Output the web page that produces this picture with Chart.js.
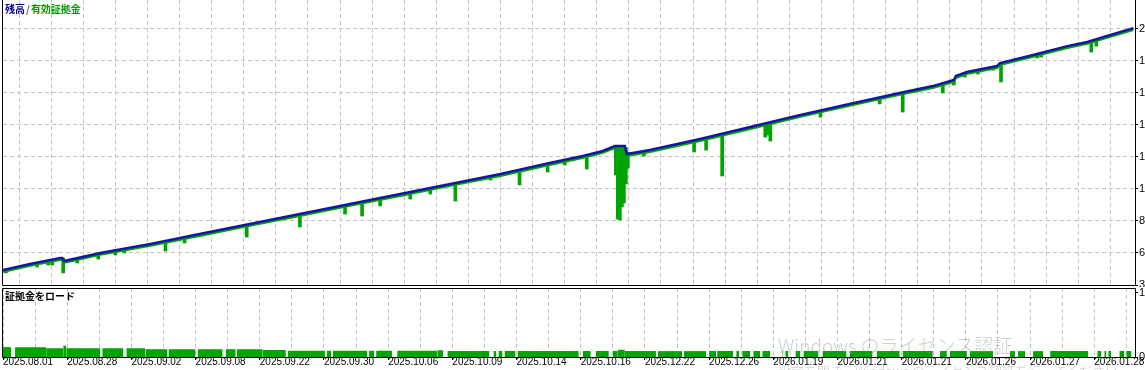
<!DOCTYPE html>
<html>
<head>
<meta charset="utf-8">
<script src="https://cdn.jsdelivr.net/npm/chart.js@4.4.0/dist/chart.umd.min.js"></script>
<style>
    body { margin: 0; width: 1145px; height: 370px; overflow: hidden; background: #fff; position: relative; font-family: "Noto Sans CJK JP", sans-serif; }
    #wrapTop { position: absolute; left: 0; top: 0; width: 1145px; height: 287px; }
    #wrapBottom { position: absolute; left: 0; top: 287px; width: 1145px; height: 83px; }
    .panel-title { position: absolute; left: 5px; font-size: 10px; line-height: 12px; white-space: nowrap; font-weight: bold; }
    .sep { margin: 0 1px; }
    .wm { position: absolute; color: rgba(130, 130, 130, 0.4); white-space: nowrap; font-weight: 300; }
</style>
</head>
<body>
<div id="wrapTop"><canvas id="equityChart"></canvas></div>
<div id="wrapBottom"><canvas id="marginChart"></canvas></div>
<div class="panel-title" style="top:3px;"><span style="color:#000088">残高</span><span class="sep" style="color:#666">/</span><span style="color:#00a000">有効証拠金</span></div>
<div class="panel-title" style="top:290px; color:#000;">証拠金をロード</div>
<div class="wm" style="left:778px; top:331px; font-size:19px;">Windows のライセンス認証</div>
<div class="wm" style="left:778px; top:361px; font-size:13px;">設定を開き、Windows のライセンス認証を行ってください。</div>

<script>
// ==========================================
// DATOS
// ==========================================
const dateLabels = ['2025.08.01', '2025.08.28', '2025.09.02', '2025.09.08', '2025.09.22', '2025.09.30',
    '2025.10.06', '2025.10.09', '2025.10.14', '2025.10.16', '2025.12.22', '2025.12.26',
    '2026.01.19', '2026.01.21', '2026.01.21', '2026.01.26', '2026.01.27', '2026.01.28'];

// 残高 (balance) y 有効証拠金 (equity) en el mismo eje x (número de barra)
const balX = [0, 27, 57, 59, 61, 97, 147, 196, 246, 296, 346, 396, 446, 496, 545, 578, 598, 610, 620, 622,
    645, 695, 745, 795, 844, 894, 927, 948, 950, 961, 991, 994, 1027, 1061, 1081, 1104, 1127];
const balance = [4880, 5280, 5670, 5670, 5470, 6000, 6590, 7240, 7900, 8550, 9210, 9860, 10520, 11170, 11890, 12350, 12680, 13000, 13000, 12480,
    12740, 13460, 14250, 15040, 15760, 16480, 16930, 17330, 17590, 17850, 18240, 18440, 18970, 19550, 19820, 20280, 20730];
const equity = [4770, 5170, 5560, 5560, 5360, 5890, 6480, 7130, 7790, 8440, 9100, 9750, 10410, 11060, 11780, 12240, 12570, 12890, 12890, 12370,
    12630, 13350, 14140, 14930, 15650, 16370, 16820, 17220, 17480, 17740, 18130, 18330, 18860, 19440, 19710, 20170, 20620];

// caídas de equity (picos verdes hacia abajo)
const dipX = [3, 34, 45, 49, 60, 74, 95, 112, 121, 162, 181, 243, 296, 341, 358, 376, 406, 426, 451, 486,
    515, 543, 560, 582, 611, 613, 615, 617, 619, 621, 623, 639, 689, 701, 717, 760, 763, 765, 815, 874,
    897, 937, 948, 959, 972, 987, 995, 1031, 1035, 1054, 1085, 1090];
const dipLow = [4690, 5080, 5210, 5210, 4690, 5340, 5600, 5870, 6000, 6130, 6650, 7040, 7700, 8550, 8420, 9080, 9530, 9860, 9400, 10780,
    10450, 11300, 11760, 11500, 11110, 8220, 8160, 9010, 9270, 10520, 11560, 12350, 12610, 12740, 11040, 13590, 13730, 13330, 14900, 15760,
    15230, 16480, 17000, 17520, 17720, 17980, 17200, 18770, 18830, 19290, 19160, 19550];
const dipTop = [4920, 5340, 5470, 5540, 5670, 5600, 5930, 6130, 6260, 6780, 7040, 7860, 8550, 9140, 9370, 9600, 9990, 10250, 10580, 11040,
    11430, 11830, 12090, 12380, 13000, 13000, 13000, 13000, 13000, 12900, 12600, 12680, 13330, 13530, 13790, 14450, 14510, 14540, 15300, 16180,
    16510, 17130, 17330, 17790, 17980, 18180, 18440, 19030, 19100, 19420, 19850, 19950];

const yTicks = [3900, 6000, 8100, 10200, 12300, 14400, 16500, 18600, 20700];

// 証拠金をロード (carga de margen, %), por tramos
const marginFrom = [0, 12, 43, 60, 63, 99, 123, 142, 165, 194, 222, 233, 259, 284, 323, 329, 365, 372, 393, 433,
    443, 489, 494, 500, 513, 578, 591, 608, 613, 620, 653, 679, 704, 712, 731, 737, 748, 757, 777, 780,
    790, 798, 817, 844, 871, 897, 934, 944, 964, 1004, 1012, 1027, 1044, 1091, 1098, 1102, 1113, 1120];
const marginTo = [8, 43, 60, 63, 97, 120, 142, 164, 192, 219, 232, 259, 282, 321, 327, 363, 370, 388, 433, 439,
    485, 492, 498, 511, 574, 586, 604, 613, 620, 651, 677, 701, 711, 728, 734, 745, 755, 765, 778, 783,
    795, 813, 841, 867, 894, 927, 941, 961, 987, 1009, 1019, 1037, 1082, 1095, 1100, 1105, 1118, 1125];
const marginLoad = [15.4, 15.4, 13.8, 17.4, 13.8, 13.8, 13.8, 12.3, 12.3, 12.3, 12.3, 12.3, 10.8, 9.7, 9.7, 9.7, 9.7, 9.7, 9.7, 10.5,
    9.2, 9.2, 9.2, 9.2, 9.2, 9.2, 9.2, 9.2, 11.5, 9.2, 9.2, 9.2, 9.2, 9.2, 9.2, 9.2, 9.2, 9.2, 9.2, 9.2,
    9.2, 9.2, 9.2, 9.2, 9.2, 9.2, 9.2, 9.2, 9.2, 9.2, 9.2, 9.2, 9.2, 9.2, 9.2, 9.2, 9.2, 9.2];

const X_MAX = 1128.6;
const GRID_STEP = 32;

// ==========================================
// ESTILO COMÚN
// ==========================================
Chart.defaults.font.family = "'Liberation Sans', Arial, sans-serif";
Chart.defaults.font.size = 10;
Chart.defaults.color = '#000';

const BLUE = '#1414a8';
const GREEN = '#00a400';
const GRID = '#c4c4c4';

// marco negro alrededor del área del gráfico
const framePlugin = {
    id: 'frame',
    afterDatasetsDraw(chart, args, opts) {
        const { ctx, chartArea: a } = chart;
        const l = Math.round(a.left) - 0.5, r = Math.round(a.right) + 0.5;
        const t = Math.round(a.top) + 0.5, b = Math.round(a.bottom) + 0.5;
        ctx.save();
        ctx.strokeStyle = '#000';
        ctx.lineWidth = 1;
        ctx.beginPath();
        if (opts.top) {
            ctx.moveTo(r, t); ctx.lineTo(l, t);
        } else {
            ctx.moveTo(l, 0);
        }
        ctx.lineTo(l, b);
        ctx.lineTo(r, b);
        ctx.lineTo(r, opts.top ? t : 0);
        ctx.stroke();
        ctx.restore();
    }
};

// sin relleno automático: el área del gráfico queda fija
function noPadding(s) {
    s.paddingTop = 0; s.paddingBottom = 0; s.paddingLeft = 0; s.paddingRight = 0;
}

function xTicks(scale) {
    const ticks = [];
    for (let v = 0; v <= X_MAX; v += GRID_STEP) ticks.push({ value: v });
    scale.ticks = ticks;
}

function xScale(showLabels) {
    return {
        type: 'linear',
        min: 0,
        max: X_MAX,
        offset: false,
        afterBuildTicks: xTicks,
        afterFit: (s) => { s.height = showLabels ? 13 : 2; noPadding(s); },
        border: { display: false, dash: [4, 3] },
        grid: {
            color: GRID,
            drawTicks: showLabels,
            tickLength: 3,
            tickBorderDash: [],
            tickColor: (c) => (c.index % 2 === 0 ? '#000' : 'rgba(0,0,0,0)')
        },
        ticks: {
            display: showLabels,
            autoSkip: false,
            maxRotation: 0,
            align: 'start',
            padding: -4,
            callback: (v) => (v % (GRID_STEP * 2) === 0 ? (dateLabels[v / (GRID_STEP * 2)] || '') : '')
        }
    };
}

// ==========================================
// PANEL SUPERIOR: 残高 / 有効証拠金
// ==========================================
const balancePoints = balX.map((x, i) => ({ x: x, y: balance[i] }));
const equityPoints = balX.map((x, i) => ({ x: x, y: equity[i] }));
const dipBars = dipX.map((x, i) => ({ x: x, y: [dipLow[i], dipTop[i]] }));

new Chart(document.getElementById('equityChart'), {
    type: 'line',
    data: {
        datasets: [
            { type: 'line', data: balancePoints, borderColor: BLUE, borderWidth: 2.5, pointRadius: 0, tension: 0, order: 0 },
            { type: 'line', data: equityPoints, borderColor: GREEN, borderWidth: 2.5, pointRadius: 0, tension: 0, order: 1 },
            { type: 'bar', data: dipBars, backgroundColor: GREEN, borderWidth: 0, barThickness: 3, order: 2 }
        ]
    },
    options: {
        responsive: true,
        maintainAspectRatio: false,
        animation: false,
        devicePixelRatio: 1,
        layout: { autoPadding: false, padding: { left: 3, right: 0, top: 0, bottom: 0 } },
        plugins: { legend: { display: false }, tooltip: { enabled: false }, frame: { top: false } },
        scales: {
            x: xScale(false),
            y: {
                position: 'right',
                min: 3900,
                max: 22570,
                afterBuildTicks: (s) => { s.ticks = yTicks.map(v => ({ value: v })); },
                afterFit: (s) => { s.width = 10; noPadding(s); },
                border: { display: false, dash: [4, 3] },
                grid: { color: GRID, tickLength: 3, tickBorderDash: [], tickColor: '#000' },
                ticks: { autoSkip: false, padding: 1, font: { size: 11 } }
            }
        }
    },
    plugins: [framePlugin]
});

// ==========================================
// PANEL INFERIOR: 証拠金をロード
// ==========================================
const marginPoints = [];
marginFrom.forEach((from, i) => {
    marginPoints.push({ x: from, y: marginLoad[i] });
    marginPoints.push({ x: marginTo[i], y: marginLoad[i] });
    marginPoints.push({ x: marginTo[i], y: null });
});

new Chart(document.getElementById('marginChart'), {
    type: 'line',
    data: {
        datasets: [{
            data: marginPoints,
            borderWidth: 0,
            borderColor: GREEN,
            backgroundColor: GREEN,
            fill: 'origin',
            pointRadius: 0,
            spanGaps: false,
            tension: 0
        }]
    },
    options: {
        responsive: true,
        maintainAspectRatio: false,
        animation: false,
        devicePixelRatio: 1,
        layout: { autoPadding: false, padding: { left: 3, right: 0, top: 1, bottom: 0 } },
        plugins: { legend: { display: false }, tooltip: { enabled: false }, frame: { top: true } },
        scales: {
            x: xScale(true),
            y: {
                position: 'right',
                min: 0,
                max: 107.8,
                afterBuildTicks: (s) => { s.ticks = [{ value: 0 }, { value: 100 }]; },
                afterFit: (s) => { s.width = 10; noPadding(s); },
                border: { display: false },
                grid: { drawOnChartArea: false, tickLength: 3, tickColor: '#000' },
                ticks: { autoSkip: false, padding: 1, font: { size: 11 } }
            }
        }
    },
    plugins: [framePlugin]
});
</script>
</body>
</html>
